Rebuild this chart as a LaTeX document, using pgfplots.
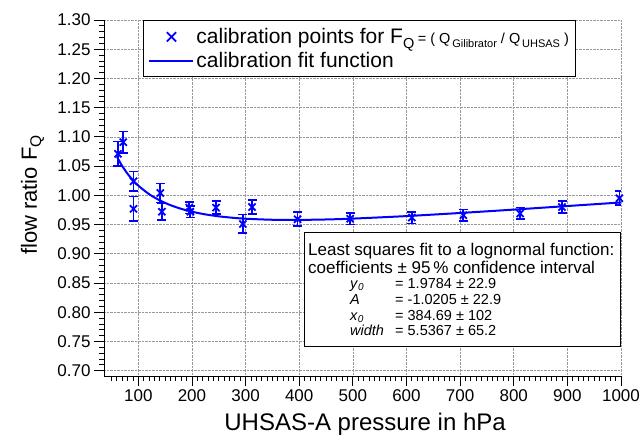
\documentclass[border=0pt]{standalone}
\usepackage{fontspec}
\setmainfont{Liberation Sans}
\usepackage{pgfplots}
\pgfplotsset{compat=1.18}
\definecolor{dblue}{RGB}{0,0,255}
\pgfplotsset{
  legmark/.style={legend image code/.code={\draw[mark repeat=2,mark phase=2,##1,dblue,line width=1.8pt,mark size=6.5pt] plot coordinates {(0pt,0pt)(22pt,0pt)(44pt,0pt)};}},
  legline/.style={legend image code/.code={\draw[##1,dblue,line width=2pt] (0pt,0pt) -- (44pt,0pt);}},
}
\begin{document}
\begin{tikzpicture}
\useasboundingbox (-104pt,-63pt) rectangle (539pt,376pt);
\begin{axis}[
  width=517pt, height=356pt, scale only axis,
  xmin=36, xmax=1000, ymin=0.6909, ymax=1.30,
  axis x line*=bottom, axis y line*=left,
  axis line style={-, line width=0.9pt, black},
  xtick={100,200,300,400,500,600,700,800,900,1000},
  minor xtick={50,60,70,80,90,110,120,130,140,150,160,170,180,190,210,220,230,240,250,260,270,280,290,310,320,330,340,350,360,370,380,390,410,420,430,440,450,460,470,480,490,510,520,530,540,550,560,570,580,590,610,620,630,640,650,660,670,680,690,710,720,730,740,750,760,770,780,790,810,820,830,840,850,860,870,880,890,910,920,930,940,950,960,970,980,990},
  ytick={0.70,0.75,0.80,0.85,0.90,0.95,1.00,1.05,1.10,1.15,1.20,1.25,1.30},
  minor y tick num=4,
  tick align=outside,
  major tick length=10pt, minor tick length=5pt,
  tick style={black, line width=0.8pt},
  grid=major,
  major grid style={densely dotted, gray!80, line width=0.6pt},
  /pgf/number format/assume math mode=true,
  tick label style={font=\fontsize{17}{20}\selectfont},
  yticklabel style={/pgf/number format/.cd, fixed, fixed zerofill, precision=2},
  xticklabel style={/pgf/number format/.cd, set thousands separator={}},
  xlabel={UHSAS-A pressure in hPa},
  xlabel style={font=\fontsize{24}{28}\selectfont, at={(axis description cs:0.505,-0.152)}, anchor=base},
  ylabel={flow ratio F\raisebox{-0.35ex}{\fontsize{15.5}{16}\selectfont Q}},
  ylabel style={font=\fontsize{22}{26}\selectfont, at={(axis description cs:-0.1296,0.508)}, anchor=base},
  legend style={at={(axis description cs:0.0754,1)}, anchor=north west,
    draw=black, line width=1pt, fill=white,
    font=\fontsize{21}{24}\selectfont, inner xsep=5pt, inner ysep=6pt, row sep=3pt,
    /tikz/every even column/.append style={column sep=8pt}},
  legend cell align=left,
]
\addplot[only marks, mark=x, mark size=5pt, color=dblue, line width=1.8pt, legmark,
  error bars/.cd, y dir=both, y explicit,
  error bar style={line width=1.7pt, color=dblue},
  error mark options={rotate=90, mark size=4.5pt, line width=1.7pt, color=dblue}]
  table[x=x, y=y, y error=e] {
x y e
62 1.071 0.021
72 1.091 0.018
91 1.024 0.017
91 0.977 0.021
141 1.004 0.016
144 0.972 0.014
195 0.979 0.010
197 0.972 0.010
245 0.979 0.011
295 0.951 0.016
312 0.980 0.012
397 0.959 0.012
495 0.960 0.010
610 0.962 0.010
706 0.966 0.010
812 0.969 0.010
890 0.980 0.010
997 0.995 0.012
};
\addlegendentry{calibration points for F\raisebox{-0.4ex}{\fontsize{14.5}{14}\selectfont Q}\,{\fontsize{14.5}{14}\selectfont = ( Q\raisebox{-0.45ex}{\fontsize{11}{10}\selectfont\,Gilibrator} / Q\raisebox{-0.45ex}{\fontsize{11}{10}\selectfont\,UHSAS} )}}
\addplot[color=dblue, line width=2pt, smooth, legline] coordinates {
(60,1.0666) (65,1.0579) (70,1.0501) (80,1.0368) (90,1.0258) (100,1.0166)
(120,1.0021) (140,0.9914) (160,0.9832) (180,0.9769) (200,0.9720)
(225,0.9674) (250,0.9641) (275,0.9617) (300,0.9600) (350,0.9582)
(400,0.9580) (450,0.9587) (500,0.9602) (600,0.9645) (700,0.9698)
(800,0.9756) (900,0.9817) (1000,0.9878)
};
\addlegendentry{calibration fit function}
\end{axis}
\draw[line width=1pt, fill=white] (200pt,29pt) rectangle (516pt,143pt);
\node[anchor=base west, inner sep=0pt, font=\fontsize{17}{20}\selectfont] at (204pt,120pt) {Least squares fit to a lognormal function:};
\node[anchor=base west, inner sep=0pt, font=\fontsize{17}{20}\selectfont] at (204pt,102pt) {coefficients ± 95\,\% confidence interval};
\begin{scope}[every node/.style={anchor=base west, inner sep=0pt, font=\fontsize{14.5}{16}\selectfont}]
\node at (246pt,87.5pt) {\textit{y}\raisebox{-0.3ex}{\fontsize{10}{10}\selectfont\textit{0}}};
\node at (291pt,87.5pt) {= 1.9784 ± 22.9};
\node at (246pt,71pt) {\textit{A}};
\node at (291pt,71pt) {= -1.0205 ± 22.9};
\node at (246pt,55.5pt) {\textit{x}\raisebox{-0.3ex}{\fontsize{10}{10}\selectfont\textit{0}}};
\node at (291pt,55.5pt) {= 384.69 ± 102};
\node at (246pt,40pt) {\textit{width}};
\node at (291pt,40pt) {= 5.5367 ± 65.2};
\end{scope}
\end{tikzpicture}
\end{document}
